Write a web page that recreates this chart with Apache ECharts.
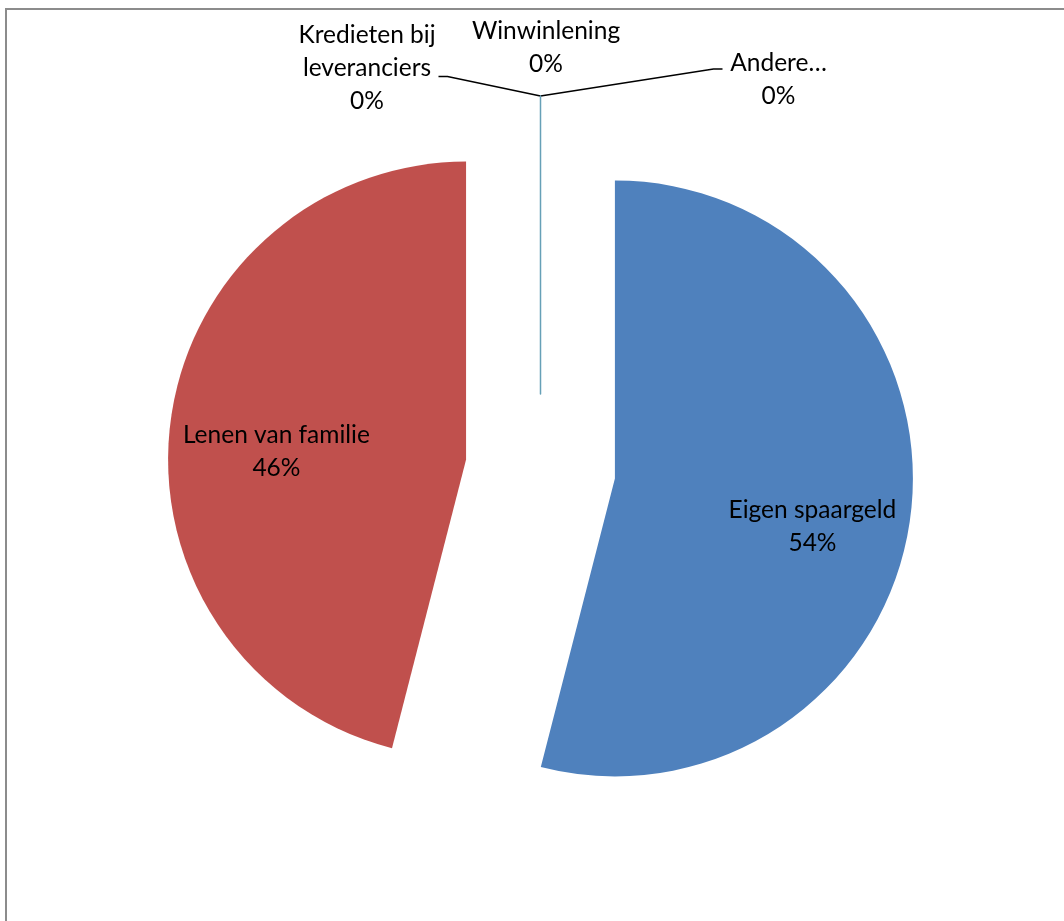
<!DOCTYPE html>
<html>
<head>
<meta charset="utf-8">
<script src="https://cdn.jsdelivr.net/npm/echarts@6/dist/echarts.min.js"></script>
<style>
  html, body { margin: 0; padding: 0; background: #ffffff; overflow: hidden; }
  #chart { position: absolute; left: 0; top: 0; width: 1064px; height: 921px; }
  #frame { position: absolute; left: 5px; top: 8px; width: 1300px; height: 1300px;
           border: 2px solid #8c8c8c; box-sizing: border-box; pointer-events: none; }
</style>
</head>
<body>
<div id="chart"></div>
<div id="frame"></div>
<script>
// Financing sources (share of respondents, %)
const categories = ['Eigen spaargeld', 'Lenen van familie', 'Kredieten bij\nleveranciers', 'Winwinlening', 'Andere…'];
const values = [54, 46, 0, 0, 0];
const colors = ['#4F81BD', '#C0504D', '#9BBB59', '#8064A2', '#4BACC6'];

// Pie geometry: every slice is pulled out from the common centre along its bisector
const CX = 540.5, CY = 469, R = 298, EXPLODE = 75;
const FONT = 'Lato';

// Label anchors for the two large slices: angle clockwise from 12 o'clock, distance in radii
const insideAnchor = { 0: [102, 0.933], 1: [273.7, 0.888] };
// Label offsets (px) for the zero slices, relative to the outer tip of the zero-width sector
const tipAnchor = { 2: [-173.5, -28], 3: [5.5, -48], 4: [238, -16.5] };
// Leader lines of the zero slices, relative to the same tip
const leader = { 2: [[-93, -19.5], [-102, -19.5]], 4: [[173, -27], [182, -27]] };

const total = values.reduce((a, b) => a + b, 0);
let acc = 0;
const midAngles = values.map(v => {
  const span = v / total * 360;
  const mid = acc + span / 2;
  acc += span;
  return mid;
});

const chart = echarts.init(document.getElementById('chart'), null, { renderer: 'canvas' });

function sliceSeries(owner) {
  const a = midAngles[owner] * Math.PI / 180;
  const cx = CX + EXPLODE * Math.sin(a);
  const cy = CY - EXPLODE * Math.cos(a);
  const tip = [cx + R * Math.sin(a), cy - R * Math.cos(a)];
  return {
    type: 'pie',
    center: [cx, cy],
    radius: R,
    startAngle: 90,
    clockwise: true,
    avoidLabelOverlap: false,
    minShowLabelAngle: 0,
    silent: true,
    emphasis: { disabled: true },
    label: {
      formatter: '{b}\n{d}%',
      color: '#000000',
      fontFamily: FONT,
      fontSize: 24.5,
      lineHeight: 33,
      align: 'center'
    },
    labelLine: {
      length: 10,
      length2: 10,
      lineStyle: { color: '#000000', width: 1.5 }
    },
    labelLayout: function (params) {
      const i = params.dataIndex;
      if (i !== owner) return {};
      if (insideAnchor[i]) {
        const b = insideAnchor[i][0] * Math.PI / 180;
        const d = insideAnchor[i][1] * R;
        return { x: CX + d * Math.sin(b), y: CY - d * Math.cos(b), align: 'center', verticalAlign: 'middle' };
      }
      const out = {
        x: tip[0] + tipAnchor[i][0],
        y: tip[1] + tipAnchor[i][1],
        align: 'center',
        verticalAlign: 'middle'
      };
      if (leader[i]) {
        out.labelLinePoints = [tip].concat(leader[i].map(p => [tip[0] + p[0], tip[1] + p[1]]));
      }
      return out;
    },
    data: categories.map((name, i) => {
      const mine = i === owner;
      const zero = values[i] === 0;
      return {
        name: name,
        value: values[i],
        itemStyle: {
          color: mine ? colors[i] : 'transparent',
          borderWidth: mine && i === 4 ? 1.5 : 0,
          borderColor: mine && i === 4 ? '#66a0b7' : 'transparent'
        },
        label: { show: mine, position: zero ? 'outside' : 'inside' },
        labelLine: { show: mine && (i === 2 || i === 4) }
      };
    })
  };
}

chart.setOption({
  animation: false,
  backgroundColor: '#ffffff',
  series: categories.map((_, i) => sliceSeries(i))
});
</script>
</body>
</html>
